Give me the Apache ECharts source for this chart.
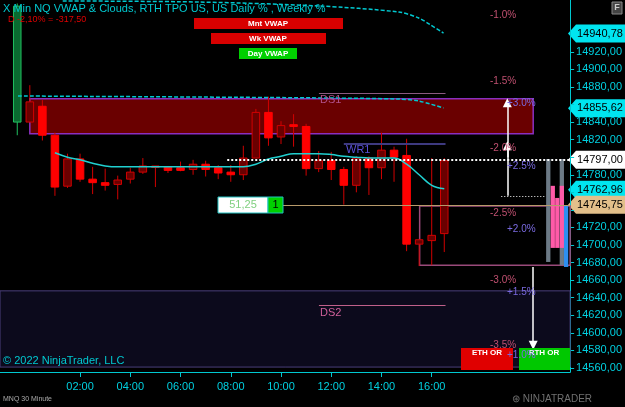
<!DOCTYPE html>
<html><head><meta charset="utf-8">
<script src="https://cdn.jsdelivr.net/npm/echarts@6/dist/echarts.min.js"></script>
<style>html,body{margin:0;padding:0;background:#000}#c{width:625px;height:407px}</style>
</head><body><div id="c"></div>
<script>
// 30-minute bars, starting 23:30 (hour -0.5)
const opens  = [14840,14840,14858,14825,14767,14798,14775,14771,14769,14775,14783,14789,14789,14788,14786,14792,14788,14783,14780,14799,14851,14823,14837,14835,14787,14796,14786,14768,14799,14788,14808,14802,14701,14705,14713];
const closes = [14972,14863,14825,14766,14798,14775,14771,14768,14774,14783,14790,14790,14785,14785,14792,14786,14782,14780,14799,14851,14822,14836,14835,14787,14796,14786,14768,14799,14788,14808,14800,14701,14706,14711,14796];
const lows   = [14825,14840,14819,14756,14765,14772,14758,14762,14752,14770,14781,14766,14782,14784,14780,14778,14775,14772,14774,14799,14813,14815,14812,14779,14783,14774,14746,14760,14757,14775,14772,14693,14676,14677,14692];
const highs  = [14975,14882,14865,14828,14804,14804,14789,14787,14779,14788,14799,14790,14790,14795,14797,14796,14791,14791,14813,14855,14869,14841,14849,14838,14807,14806,14789,14801,14801,14828,14812,14821,14707,14799,14799];
const vwapIdx = [3,4,5,6,7,8,12,18,19,20,21,22,24,25,26,27,28,30,31,32,33,34];
const vwapVal = [14805,14800,14797,14793,14790,14789,14789,14789,14792,14798,14801,14804,14804,14803,14801,14800,14799,14799,14792,14780,14768,14764];
const mntX = [1.31,6.75,11.51,14.69,15.48,15.96,16.47];
const mntY = [14977.9,14976.7,14972.2,14965.3,14958.5,14950.5,14941.4];
const wkX = [-0.47,6.75,11.91,14.69,15.48,16.47];
const wkY = [14869.7,14868.5,14867.4,14866.2,14864,14856];
// profile bars: x (hours), low, high, colour index
const profX = [20.64,20.82,21.0,21.18,21.18,21.35];
const profLo = [14680.7,14696.7,14696.7,14677,14696.7,14675];
const profHi = [14797.9,14767.4,14753.6,14797.9,14767.4,14745.5];
const profC = [0,1,1,0,1,2];
const yTicks = [14560,14580,14600,14620,14640,14660,14680,14700,14720,14740,14760,14780,14800,14820,14840,14860,14880,14900,14920];
const yLabels = [14560,14580,14600,14620,14640,14660,14680,14700,14720,14780,14820,14840,14880,14900,14920];
const xTicks = [2,4,6,8,10,12,14,16];
const tags = [[14940.78,'#00e5f0'],[14855.62,'#00e5f0'],[14797.00,'#ffffff'],[14762.96,'#00e5f0'],[14745.75,'#e2bf8a']];

const XMIN=-1.187, XMAX=21.51, YMIN=14555.4, YMAX=14979, PH=372;
const fmt = v => v.toFixed(2).replace('.',',');
const candles = opens.map((o,i)=>[-0.5+0.5*i,o,closes[i],lows[i],highs[i],i]);

const chart = echarts.init(document.getElementById('c'));
const ff='Liberation Sans, Arial, sans-serif';
function pct(t,y,col,x){return {type:'text',left:x,top:y,style:{text:t,fill:col,font:'10px '+ff}};}
const tagG = tags.map(t=>{const y=(YMAX-t[0])/(YMAX-YMIN)*PH;
  return {type:'group',children:[
   {type:'polygon',shape:{points:[[568,y],[576,y-9],[625,y-9],[625,y+9],[576,y+9]]},style:{fill:t[1]}},
   {type:'text',x:577,y:y,style:{text:fmt(t[0]),fill:'#000',font:'11px '+ff,verticalAlign:'middle'}}]};});
const graphics = [
  {type:'text',left:3,top:3,style:{text:'X Min NQ VWAP & Clouds, RTH TPO US, US Daily % , Weekly %',fill:'#00c8d0',font:'11px '+ff}},
  {type:'text',left:8,top:15,style:{text:'D -2,10% = -317,50',fill:'#e00000',font:'9px '+ff}},
  {type:'rect',shape:{x:194,y:18,width:149,height:11},style:{fill:'#d80000'}},
  {type:'text',x:268,y:23.5,style:{text:'Mnt VWAP',fill:'#fff',font:'bold 8px '+ff,align:'center',verticalAlign:'middle'}},
  {type:'rect',shape:{x:211,y:33,width:115,height:11},style:{fill:'#d80000'}},
  {type:'text',x:268,y:38.5,style:{text:'Wk VWAP',fill:'#fff',font:'bold 8px '+ff,align:'center',verticalAlign:'middle'}},
  {type:'rect',shape:{x:239,y:48,width:58,height:11},style:{fill:'#00d000'}},
  {type:'text',x:268,y:53.5,style:{text:'Day VWAP',fill:'#fff',font:'bold 8px '+ff,align:'center',verticalAlign:'middle'}},
  {type:'text',left:320,top:94,style:{text:'DS1',fill:'#b0508a',font:'11px '+ff}},
  {type:'text',left:346,top:144,style:{text:'WR1',fill:'#5a50d8',font:'11px '+ff}},
  {type:'text',left:320,top:307,style:{text:'DS2',fill:'#d0609a',font:'11px '+ff}},
  {type:'rect',shape:{x:218,y:197,width:50,height:16},style:{fill:'#fff',stroke:'#20c0c0'}},
  {type:'text',x:243,y:205,style:{text:'51,25',fill:'#80d080',font:'11px '+ff,align:'center',verticalAlign:'middle'}},
  {type:'rect',shape:{x:268,y:197,width:15,height:16},style:{fill:'#00d000',stroke:'#20c0c0'}},
  {type:'text',x:275.5,y:205,style:{text:'1',fill:'#000',font:'11px '+ff,align:'center',verticalAlign:'middle'}},
  pct('-1.0%',10,'#c05070',490),pct('-1.5%',76,'#c05070',490),pct('+3.0%',98,'#7a6ae0',507),
  pct('-2.0%',143,'#c05070',490),pct('+2.5%',161,'#7a6ae0',507),pct('-2.5%',208,'#c05070',490),
  pct('+2.0%',224,'#7a6ae0',507),pct('-3.0%',275,'#c05070',490),pct('+1.5%',287,'#7a6ae0',507),
  {type:'rect',shape:{x:461,y:348,width:52,height:22},style:{fill:'#e00000'}},
  {type:'text',x:487,y:353,style:{text:'ETH OR',fill:'#fff',font:'bold 8px '+ff,align:'center',verticalAlign:'middle'}},
  {type:'rect',shape:{x:519,y:348,width:51,height:22},style:{fill:'#00c800'}},
  {type:'text',x:544,y:353,style:{text:'RTH OR',fill:'#fff',font:'bold 8px '+ff,align:'center',verticalAlign:'middle'}},
  pct('-3.5%',340,'#c05070',490),pct('+1.0%',350,'#7a6ae0',507),
  {type:'text',left:3,top:355,style:{text:'© 2022 NinjaTrader, LLC',fill:'#00c8d0',font:'11px '+ff}},
  {type:'text',left:3,top:396,style:{text:'MNQ 30 Minute',fill:'#aaaaaa',font:'7px '+ff}},
  {type:'text',left:512,top:394,style:{text:'⊛ NINJATRADER',fill:'#707070',font:'10px '+ff}},
  {type:'rect',shape:{x:612,y:2,width:10,height:12},style:{fill:'#444',stroke:'#888'}},
  {type:'text',x:617,y:8,style:{text:'F',fill:'#ccc',font:'bold 9px '+ff,align:'center',verticalAlign:'middle'}}
 ].concat(tagG).map(g=>Object.assign(g,{z:100}));
chart.setOption({
 backgroundColor:'#000',animation:false,
 grid:{left:0,right:53,top:0,bottom:35},
 xAxis:{type:'value',min:XMIN,max:XMAX,splitLine:{show:false},
   axisLine:{onZero:false,lineStyle:{color:'#00c8d0'}},
   axisTick:{customValues:xTicks,lineStyle:{color:'#00c8d0'}},
   axisLabel:{customValues:xTicks,color:'#00d0e0',fontSize:11,fontFamily:ff,margin:9,
     formatter:v=>String(v).padStart(2,'0')+':00'}},
 yAxis:{type:'value',position:'right',min:YMIN,max:YMAX,splitLine:{show:false},
   axisLine:{show:true,onZero:false,lineStyle:{color:'#00c8d0'}},
   axisTick:{show:true,customValues:yTicks,length:4,lineStyle:{color:'#00c8d0'}},
   axisLabel:{customValues:yLabels,color:'#00d0e0',fontSize:11,fontFamily:ff,margin:6,formatter:v=>fmt(v)}},
 series:[
  {type:'line',data:[],silent:true,
   markArea:{silent:true,data:[
     [{coord:[XMIN,14647.8],itemStyle:{color:'#0c0a1c',borderColor:'#4a3f7a',borderWidth:1}},{coord:[XMAX,14561]}],
     [{coord:[0.0,14866.5],itemStyle:{color:'#6a0000',borderColor:'#8a2fc0',borderWidth:1.5}},{coord:[20.04,14826.6]}],
     [{coord:[15.52,14744.4],itemStyle:{color:'rgba(0,0,0,0)',borderColor:'#9a4a7a',borderWidth:1.5}},{coord:[XMAX,14677]}]
   ]},
   markLine:{silent:true,symbol:'none',label:{show:false},data:[
     [{coord:[11.51,14873.1],lineStyle:{color:'#8a5a80',width:1,type:'solid'}},{coord:[16.55,14873.1]}],
     [{coord:[12.5,14815],lineStyle:{color:'#3e3a80',width:2,type:'solid'}},{coord:[16.55,14815]}],
     [{coord:[11.51,14631.6],lineStyle:{color:'#c0608a',width:1,type:'solid'}},{coord:[16.55,14631.6]}],
     [{coord:[7.86,14797],lineStyle:{color:'#ffffff',width:2,type:[2,2]}},{coord:[XMAX,14797]}],
     [{coord:[10.04,14745.75],lineStyle:{color:'#b89a6a',width:1,type:'solid'}},{coord:[XMAX,14745.75]}],
     [{coord:[18.77,14756],lineStyle:{color:'#ffffff',width:1,type:[1,2]}},{coord:[20.56,14756]}]
   ]}},
  {type:'custom',data:profX.map((x,i)=>[x,profLo[i],profHi[i],profC[i]]),
   renderItem:(p,api)=>{const a=api.coord([api.value(0),api.value(1)]),b=api.coord([api.value(0),api.value(2)]);
     const w=api.size([0.17,0])[0];const c=['#6c7a86','#ff5aa8','#2e8ff0'][api.value(3)];
     return {type:'rect',shape:{x:a[0]-w/2,y:b[1],width:w,height:a[1]-b[1]},style:{fill:c}};}},
  {type:'line',data:mntX.map((x,i)=>[x,mntY[i]]),showSymbol:false,smooth:0.3,lineStyle:{color:'#00c8d0',width:1.5,type:[4,2]}},
  {type:'line',data:wkX.map((x,i)=>[x,wkY[i]]),showSymbol:false,smooth:0.3,lineStyle:{color:'#00c8d0',width:1.5,type:[4,2]}},
  {type:'custom',data:candles,
   renderItem:(p,api)=>{const x=api.value(0),o=api.value(1),c=api.value(2),l=api.value(3),h=api.value(4),i=api.value(5);
     const po=api.coord([x,o]),pc=api.coord([x,c]),pl=api.coord([x,l]),ph=api.coord([x,h]);
     const w=api.size([0.3,0])[0];let fill,stroke;
     if(i===0){fill='#0a6a30';stroke='#20c060';} else if(c>=o){fill='#6a0000';stroke='#d00000';} else {fill='#ff0000';stroke='#ff0000';}
     const top=Math.min(po[1],pc[1]),hh=Math.max(1.5,Math.abs(po[1]-pc[1]));
     return {type:'group',children:[
       {type:'line',shape:{x1:po[0],y1:ph[1],x2:po[0],y2:pl[1]},style:{stroke:i===0?'#20c060':'#d00000',lineWidth:1}},
       {type:'rect',shape:{x:po[0]-w/2,y:top,width:w,height:hh},style:{fill:fill,stroke:stroke,lineWidth:1}}]};}},
  {type:'line',data:vwapIdx.map((k,i)=>[-0.5+0.5*k,vwapVal[i]]),showSymbol:false,smooth:0.4,lineStyle:{color:'#20d0d0',width:1.5}},
  {type:'line',data:[],silent:true,z:5,
   markLine:{silent:true,symbol:['none','triangle'],symbolSize:[9,9],label:{show:false},data:[
     [{coord:[19.01,14756],lineStyle:{color:'#ffffff',width:1.5,type:'solid'}},{coord:[19.01,14862]}],
     [{coord:[19.01,14800],lineStyle:{color:'#ffffff',width:1.5,type:'solid'}},{coord:[19.01,14813]}],
     [{coord:[20.04,14675],lineStyle:{color:'#ffffff',width:1.5,type:'solid'}},{coord:[20.04,14586]}]
   ]}}
 ],
 graphic:graphics
});
</script></body></html>
